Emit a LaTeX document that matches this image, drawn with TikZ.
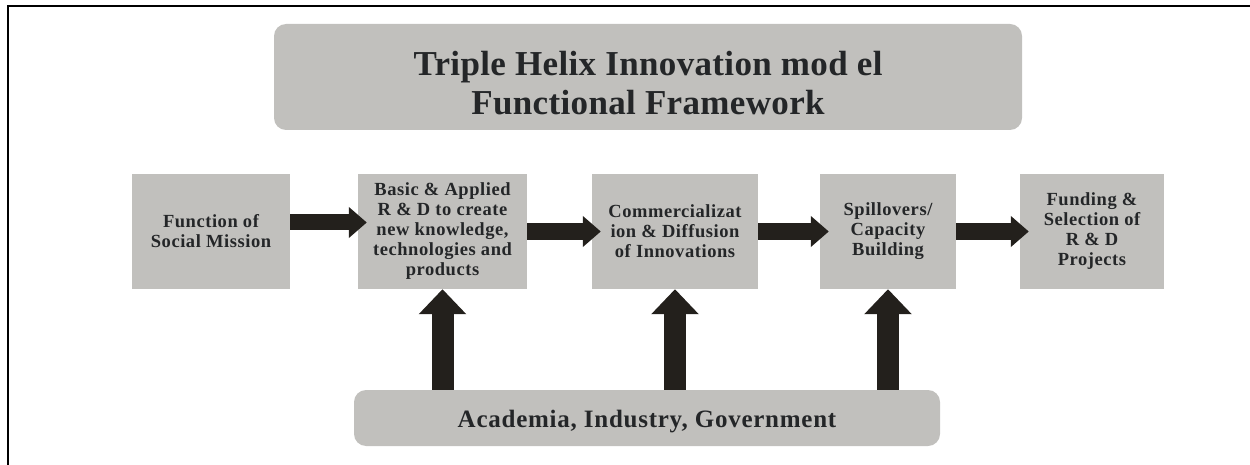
\documentclass[tikz,border=0pt]{standalone}
\usepackage{fontspec}
\setmainfont{Liberation Serif}
\usetikzlibrary{arrows.meta}
\definecolor{boxgray}{RGB}{193,192,189}
\definecolor{inkdark}{RGB}{36,38,40}
\definecolor{arrowdark}{RGB}{35,32,28}

\begin{document}
\begin{tikzpicture}[x=1pt,y=-1pt,
		stage/.style={fill=boxgray,inner sep=0pt,align=center,text=inkdark,
			font=\bfseries\fontsize{18.5}{20}\selectfont\addfontfeature{LetterSpace=3},minimum height=115pt},
		banner/.style={fill=boxgray,rounded corners=12pt,inner sep=0pt,align=center,text=inkdark},
		harrow/.style={draw=arrowdark,line width=16pt,-{Triangle[width=30pt,length=18pt]},shorten >=-9pt},
		varrow/.style={draw=arrowdark,line width=22pt,-{Triangle[width=46pt,length=25pt]}}]
	\useasboundingbox (0,0) rectangle (1250,465);
	\draw[line width=2pt] (7.5,465) -- (7.5,6) -- (1250,6);
	% heading
	\node[banner,minimum width=748pt,minimum height=106pt,text height=76pt,
		font=\bfseries\fontsize{35}{39}\selectfont\addfontfeature{LetterSpace=1}] (title) at (648,77)
		{Triple Helix Innovation mod el\\Functional Framework};
	% the five functions
	\node[stage,minimum width=158pt] (b1) at (211,231.5) {Function of\\Social Mission};
	\node[stage,minimum width=169pt] (b2) at (442.5,231.5)
		{Basic \& Applied\\R \& D to create\\new knowledge,\\technologies and\\products};
	\node[stage,minimum width=166pt] (b3) at (675,231.5)
		{Commercializat\\ion \& Diffusion\\of Innovations};
	\node[stage,minimum width=136pt] (b4) at (888,231.5) {Spillovers/\\Capacity\\Building};
	\node[stage,minimum width=144pt] (b5) at (1092,231.5)
		{Funding \&\\Selection of\\R \& D\\Projects};
	% actors
	\node[banner,minimum width=586pt,minimum height=56pt,text height=25pt,text depth=6pt,
		font=\bfseries\fontsize{25}{28}\selectfont\addfontfeature{LetterSpace=3}] (bar) at (647,418)
		{Academia, Industry, Government};
	\draw[harrow] ([yshift=9pt]b1.east) -- ([yshift=9pt]b2.west);
	\foreach \a/\b in {b2/b3,b3/b4,b4/b5}
		\draw[harrow] (\a.east) -- (\b.west);
	\foreach \b in {b2,b3,b4}
		\draw[varrow] (bar.north -| \b.south) -- (\b.south);
\end{tikzpicture}
\end{document}
